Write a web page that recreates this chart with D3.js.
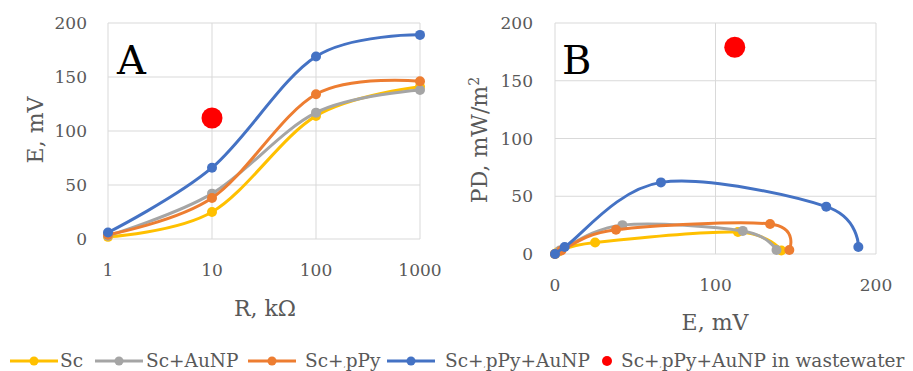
<!DOCTYPE html>
<html><head><meta charset="utf-8">
<script src="https://cdn.jsdelivr.net/npm/d3@7"></script>
<style>body{margin:0;background:#fff}svg{display:block}</style>
</head><body>
<svg id="c" width="913" height="371"></svg>
<script>
// ---- data ----
const resistances = [1, 10, 100, 1000];           // R, kΩ
const seriesNames = ["Sc", "Sc+AuNP", "Sc+pPy", "Sc+pPy+AuNP"];
const eSc        = [2, 25, 114, 141];
const eScAu      = [3, 42, 117, 138];
const eScPpy     = [4, 38, 134, 146];
const eScPpyAu   = [6, 66, 169, 189];
const pdSc       = [0, 2, 10, 19, 3];
const pdScAu     = [0, 3, 25, 20, 3.5];
const pdScPpy    = [0, 3, 21, 26, 3.5];
const pdScPpyAu  = [0, 6, 62, 41, 6];
const wasteA = {r: 10, e: 112};
const wasteB = {e: 112, pd: 179};
const yTicks = [0, 50, 100, 150, 200];
const xTicksA = [1, 10, 100, 1000];
const xTicksB = [0, 100, 200];
const colors = ["#FFC000", "#A5A5A5", "#ED7D31", "#4472C4"];
const wasteColor = "#FF0000";

const eData = [eSc, eScAu, eScPpy, eScPpyAu];
const pdData = [pdSc, pdScAu, pdScPpy, pdScPpyAu];

const svg = d3.select("#c");
const font = "'Palatino Linotype','Book Antiqua',Palatino,'DejaVu Serif',serif";
const txt = "#595959", grid = "#D9D9D9";
const smooth = d3.curveCatmullRom.alpha(0);

// ---- Panel A ----
const xA = d3.scaleLog().domain([1, 1000]).range([108, 420]);
const yA = d3.scaleLinear().domain([0, 200]).range([239, 23]);
const gA = svg.append("g");
yTicks.forEach(t => gA.append("line").attr("x1", 108).attr("x2", 420).attr("y1", yA(t)).attr("y2", yA(t)).attr("stroke", grid).attr("stroke-width", 1));
xTicksA.forEach(t => gA.append("line").attr("x1", xA(t)).attr("x2", xA(t)).attr("y1", 23).attr("y2", 239).attr("stroke", grid).attr("stroke-width", 1));
yTicks.forEach(t => gA.append("text").attr("x", 87).attr("y", yA(t) + 6).attr("text-anchor", "end").attr("font-family", font).attr("font-size", 17).attr("fill", txt).text(t));
xTicksA.forEach(t => gA.append("text").attr("x", xA(t)).attr("y", 276).attr("text-anchor", "middle").attr("font-family", font).attr("font-size", 17).attr("fill", txt).text(t));
gA.append("text").attr("x", 265).attr("y", 316).attr("text-anchor", "middle").attr("font-family", font).attr("font-size", 22).attr("fill", txt).text("R, kΩ");
gA.append("text").attr("transform", "translate(43,130) rotate(-90)").attr("text-anchor", "middle").attr("font-family", font).attr("font-size", 22).attr("fill", txt).text("E, mV");
gA.append("text").attr("x", 117).attr("y", 74).attr("font-family", font).attr("font-size", 40).attr("fill", "#000").text("A");

const lineA = d3.line().x(d => xA(d[0])).y(d => yA(d[1])).curve(smooth);
eData.forEach((s, i) => {
  const pts = resistances.map((r, j) => [r, s[j]]);
  gA.append("path").attr("d", lineA(pts)).attr("fill", "none").attr("stroke", colors[i]).attr("stroke-width", 3);
  pts.forEach(p => gA.append("circle").attr("cx", xA(p[0])).attr("cy", yA(p[1])).attr("r", 5).attr("fill", colors[i]));
});
gA.append("circle").attr("cx", xA(wasteA.r)).attr("cy", yA(wasteA.e)).attr("r", 10.5).attr("fill", wasteColor);

// ---- Panel B ----
const xB = d3.scaleLinear().domain([0, 200]).range([555, 876]);
const yB = d3.scaleLinear().domain([0, 200]).range([254, 23]);
const gB = svg.append("g");
yTicks.forEach(t => gB.append("line").attr("x1", 555).attr("x2", 876).attr("y1", yB(t)).attr("y2", yB(t)).attr("stroke", grid).attr("stroke-width", 1));
xTicksB.forEach(t => gB.append("line").attr("x1", xB(t)).attr("x2", xB(t)).attr("y1", 23).attr("y2", 254).attr("stroke", grid).attr("stroke-width", 1));
yTicks.forEach(t => gB.append("text").attr("x", 533).attr("y", yB(t) + 6).attr("text-anchor", "end").attr("font-family", font).attr("font-size", 17).attr("fill", txt).text(t));
xTicksB.forEach(t => gB.append("text").attr("x", xB(t)).attr("y", 291).attr("text-anchor", "middle").attr("font-family", font).attr("font-size", 17).attr("fill", txt).text(t));
gB.append("text").attr("x", 715).attr("y", 330).attr("text-anchor", "middle").attr("font-family", font).attr("font-size", 22).attr("fill", txt).text("E, mV");
const pdLab = gB.append("text").attr("transform", "translate(487,140) rotate(-90)").attr("text-anchor", "middle").attr("font-family", font).attr("font-size", 22).attr("fill", txt);
pdLab.append("tspan").text("PD, mW/m");
pdLab.append("tspan").attr("font-size", 14).attr("dy", -8).text("2");
gB.append("text").attr("x", 562).attr("y", 74).attr("font-family", font).attr("font-size", 40).attr("fill", "#000").text("B");

const lineB = d3.line().x(d => xB(d[0])).y(d => yB(d[1])).curve(smooth);
eData.forEach((s, i) => {
  const es = [0].concat(s);
  const pts = es.map((e, j) => [e, pdData[i][j]]);
  gB.append("path").attr("d", lineB(pts)).attr("fill", "none").attr("stroke", colors[i]).attr("stroke-width", 3);
  pts.forEach(p => gB.append("circle").attr("cx", xB(p[0])).attr("cy", yB(p[1])).attr("r", 5).attr("fill", colors[i]));
});
gB.append("circle").attr("cx", xB(wasteB.e)).attr("cy", yB(wasteB.pd)).attr("r", 10.5).attr("fill", wasteColor);

// ---- Legend ----
const lg = svg.append("g");
const ly = 361;
const fsL = 18.5;
const legendItems = [
  {x: 10, tx: 60, parts: ["Sc"]},
  {x: 95, tx: 146, parts: ["Sc+AuNP"]},
  {x: 248, tx: 305, parts: ["Sc+", ",", "pPy"]},
  {x: 387, tx: 445, parts: ["Sc+", ",", "pPy+AuNP"]}
];
legendItems.forEach((it, i) => {
  lg.append("line").attr("x1", it.x).attr("x2", it.x + 48).attr("y1", ly).attr("y2", ly).attr("stroke", colors[i]).attr("stroke-width", 3);
  lg.append("circle").attr("cx", it.x + 24).attr("cy", ly).attr("r", 4.5).attr("fill", colors[i]);
  const t = lg.append("text").attr("x", it.tx).attr("y", ly + 6).attr("font-family", font).attr("font-size", fsL).attr("fill", txt);
  it.parts.forEach(p => {
    if (p === ",") t.append("tspan").attr("font-size", 7).text(",");
    else t.append("tspan").text(p);
  });
});
lg.append("circle").attr("cx", 607).attr("cy", ly).attr("r", 5).attr("fill", wasteColor);
const wt = lg.append("text").attr("x", 621).attr("y", ly + 6).attr("font-family", font).attr("font-size", fsL).attr("fill", txt);
wt.append("tspan").text("Sc+");
wt.append("tspan").attr("font-size", 7).text(",");
wt.append("tspan").text("pPy+AuNP in wastewater");
</script>
</body></html>
